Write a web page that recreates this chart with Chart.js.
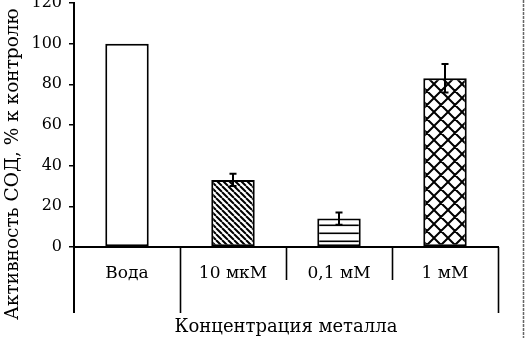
<!DOCTYPE html>
<html><head><meta charset="utf-8">
<script src="https://cdn.jsdelivr.net/npm/chart.js@4.4.1/dist/chart.umd.min.js"></script>
<style>html,body{margin:0;padding:0;background:#fff}#w{width:526px;height:338px}</style>
</head><body><div id="w"><canvas id="c" width="526" height="338"></canvas></div>
<script>
const categories = ['Вода', '10 мкМ', '0,1 мМ', '1 мМ'];
const activity = [100, 33, 14, 83];
const errors = [0, 3, 3, 7];
const yTicks = [0, 20, 40, 60, 80, 100, 120];
const yTitle = 'Активность СОД, % к контролю';
const xTitle = 'Концентрация металла';

const FONT = '"DejaVu Serif", "Liberation Serif", serif';

function tile(size, draw) {
  const c = document.createElement('canvas');
  c.width = size; c.height = size;
  const g = c.getContext('2d');
  g.fillStyle = '#fff'; g.fillRect(0, 0, size, size);
  g.strokeStyle = '#000';
  draw(g, size);
  return document.getElementById('c').getContext('2d').createPattern(c, 'repeat');
}
const diag = tile(6, (g, s) => {
  g.lineWidth = 2; g.beginPath();
  for (const x0 of [-s, 0, s]) { g.moveTo(x0, 0); g.lineTo(x0 + s, s); }
  g.stroke();
});
const horiz = tile(8, (g, s) => { g.fillStyle = '#000'; g.fillRect(0, 0.5, s, 1.6); });
const cross = tile(14, (g, s) => {
  g.lineWidth = 2; g.beginPath();
  for (const x0 of [-s, 0, s]) { g.moveTo(x0, 0); g.lineTo(x0 + s, s); g.moveTo(x0 + s, 0); g.lineTo(x0, s); }
  g.stroke();
});
const fills = ['#fff', diag, horiz, cross];

const decor = {
  id: 'decor',
  afterDatasetsDraw(chart) {
    const ctx = chart.ctx, x = chart.scales.x, y = chart.scales.y;
    const base = y.getPixelForValue(0);
    ctx.save();
    ctx.strokeStyle = '#000';
    // error bars
    ctx.lineWidth = 2;
    activity.forEach((v, i) => {
      const e = errors[i]; if (!e) return;
      const cx = x.getPixelForValue(i);
      const t = y.getPixelForValue(v + e), b = y.getPixelForValue(v - e);
      ctx.beginPath();
      ctx.moveTo(cx, t); ctx.lineTo(cx, b);
      ctx.moveTo(cx - 3.5, t); ctx.lineTo(cx + 3.5, t);
      ctx.moveTo(cx - 3.5, b); ctx.lineTo(cx + 3.5, b);
      ctx.stroke();
    });
    // y axis extension & category separators
    const longLen = 66, shortLen = 33;
    ctx.lineWidth = 2;
    ctx.beginPath();
    ctx.moveTo(x.left, base); ctx.lineTo(x.left, base + longLen);
    ctx.stroke();
    ctx.lineWidth = 1.6;
    for (let i = 1; i <= categories.length; i++) {
      const px = Math.round(x.getPixelForValue(i - 0.5)) + 0.5;
      const len = (i === 1 || i === categories.length) ? longLen : shortLen;
      ctx.beginPath(); ctx.moveTo(px, base); ctx.lineTo(px, base + len); ctx.stroke();
    }
    // rotated y title
    ctx.fillStyle = '#000';
    ctx.font = '18.5px ' + FONT;
    ctx.translate(18, 320);
    ctx.rotate(-Math.PI / 2);
    ctx.textAlign = 'left';
    ctx.textBaseline = 'alphabetic';
    ctx.fillText(yTitle, 0, 0);
    ctx.restore();
    // scan edge
    ctx.save();
    ctx.strokeStyle = '#666'; ctx.lineWidth = 1.5; ctx.setLineDash([3, 1]);
    ctx.beginPath(); ctx.moveTo(523.5, 0); ctx.lineTo(523.5, 338); ctx.stroke();
    ctx.restore();
  }
};

new Chart(document.getElementById('c'), {
  type: 'bar',
  data: {
    labels: categories,
    datasets: [{
      data: activity,
      backgroundColor: fills,
      borderColor: '#000',
      borderWidth: 2,
      borderSkipped: false,
      barPercentage: 0.41,
      categoryPercentage: 1
    }]
  },
  options: {
    responsive: false,
    animation: false,
    devicePixelRatio: 1,
    layout: { padding: { top: 3, right: 28, left: 0, bottom: 0 } },
    plugins: { legend: { display: false }, tooltip: { enabled: false } },
    scales: {
      x: {
        offset: true,
        grid: { display: false },
        border: { display: true, color: '#000', width: 2 },
        ticks: { color: '#000', font: { family: FONT, size: 17 }, padding: 8, maxRotation: 0 },
        title: { display: true, text: xTitle, color: '#000', font: { family: FONT, size: 18 }, padding: 0 },
        afterFit(s) { s.height = 91; s.paddingLeft = 0; s.paddingRight = 0; }
      },
      y: {
        min: 0, max: 120,
        afterBuildTicks(s) { s.ticks = yTicks.map(v => ({ value: v })); },
        grid: { drawOnChartArea: false, drawTicks: true, tickLength: 5, color: '#000', lineWidth: 1.5 },
        border: { display: true, color: '#000', width: 2 },
        ticks: { color: '#000', font: { family: FONT, size: 16 }, padding: 7 },
        afterFit(s) { s.width = 74; s.paddingTop = 0; s.paddingBottom = 0; }
      }
    }
  },
  plugins: [decor]
});
</script></body></html>
